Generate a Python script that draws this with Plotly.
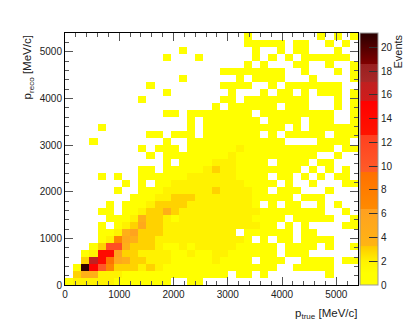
import plotly.graph_objects as go

# Event counts, one string per p_reco bin from the top row down.
# Left half and right half of each row, base 36 digits, "." is an empty bin
rows_left = [
    "..................",
    "..................",
    "..............1...",
    "............1...1.",
    "..................",
    "..................",
    "..............1...",
    "..........1.......",
    "............1.....",
    ".........1........",
    "..................",
    "............11.111",
    "...............1.1",
    "....1..........1.1",
    "..........11.111.1",
    "...1........1..111",
    ".........1.111.111",
    "..........1.111111",
    "............1.1111",
    ".........11.111112",
    "....1.1..111111222",
    ".......1.1.1122222",
    "......1..111222222",
    "........1112233322",
    ".....1.11123333222",
    "....11.11233432222",
    ".....1112433212222",
    "....1.123533222222",
    "....11246333222222",
    "....12754332222222",
    "...13bb43332112122",
    "..12ee633222211211",
    "..3he9543322211111",
    ".1lfa7333232111111",
    ".34422211111111111",
    "1222221111111..11.",
]
rows_right = [
    "....1........1.1.1",
    "....11111.11..1.1.",
    ".....1..1.11...1..",
    ".....1.1.1.111111.",
    "....1.1...11..1..1",
    ".11111111..1...1.1",
    "...1.1111...1....1",
    ".1111..1.1111111..",
    "..1...1.11.1.111.1",
    ".11.11111111...1.1",
    "1.111111.111...1.1",
    "11111.111111111..1",
    "111111.1111.111..1",
    "111111111.1.111111",
    "111111.1.11111.111",
    "111111111....1111.",
    "111211111111111.11",
    "1121111111111..1..",
    "2221111.1111.11...",
    "32211111111.1.1.1.",
    "2221111.11.1.1.11.",
    "22221111.1..1...11",
    "3222211.111...1...",
    "2222211111.111....",
    "222221.1.11..1.1..",
    "22222211111111..1.",
    "222221111.11111..1",
    "22222211.1.1....11",
    "222.111111.11.....",
    "22221.1.11.1111...",
    "22211111.1111.1..1",
    "22111111.111......",
    "21111.111..1111.11",
    "11111111..11111...",
    "11.11.1.......1...",
    "..................",
]
bin_centres = [75 + 150 * i for i in range(36)]
tick_vals = [0, 1000, 2000, 3000, 4000, 5000]
bar_ticks = [0, 2, 4, 6, 8, 10, 12, 14, 16, 18, 20]

z = []
for left, right in zip(rows_left[::-1], rows_right[::-1]):
    z.append([None if ch == "." else int(ch, 36) for ch in left + right])

# banded palette like the root colour bar
zmax = 21.2
stops = [
    (0, "#ffff00"), (1, "#ffff00"), (2, "#fff200"), (3.3, "#ffc800"), (3.3, "#ffb414"), (6.4, "#ffa020"),
    (6.4, "#ff8a00"), (9.5, "#ff7000"), (9.5, "#ff5c28"), (12.6, "#ff4020"),
    (12.6, "#ff1400"), (15.5, "#ff0000"), (15.5, "#d01c1c"), (17.1, "#c02020"),
    (17.1, "#a82828"), (18.6, "#982020"), (18.6, "#800000"), (21.2, "#2a0000"),
]
colorscale = [[v / zmax, c] for v, c in stops]

fig = go.Figure(go.Heatmap(
    x=bin_centres, y=bin_centres, z=z, zmin=0, zmax=zmax, colorscale=colorscale,
    hoverongaps=False,
    colorbar=dict(
        thickness=18, thicknessmode="pixels", len=1, lenmode="fraction",
        x=1.0068, xanchor="left", xpad=0, y=0, yanchor="bottom", ypad=0,
        tickvals=bar_ticks, ticks="inside", ticklen=9, tickcolor="#333333", tickwidth=1,
        outlinewidth=1, outlinecolor="#999999",
        tickfont=dict(family="Liberation Sans", size=10, color="#222222"),
    ),
))

axis_style = dict(
    range=[0, 5400], tickvals=tick_vals, ticks="inside", ticklen=8, tickwidth=1, tickcolor="#555555",
    minor=dict(dtick=200, ticks="inside", ticklen=4, tickwidth=1, tickcolor="#555555"),
    showgrid=False, zeroline=False, showline=True, linecolor="black", linewidth=1, mirror="ticks",
    tickfont=dict(family="Liberation Sans", size=10, color="#222222"),
)
fig.update_xaxes(**axis_style)
fig.update_yaxes(**axis_style)

title_font = dict(family="Liberation Sans", size=11.5, color="#222222")
fig.add_annotation(text="p<sub>true</sub> [MeV/c]", xref="paper", yref="paper", x=1.005, y=-0.08,
                   xanchor="right", yanchor="top", showarrow=False, font=title_font)
fig.add_annotation(text="p<sub>reco</sub> [MeV/c]", xref="paper", yref="paper", x=-0.125, y=1,
                   xanchor="center", yanchor="top", textangle=-90, showarrow=False, font=title_font)
fig.add_annotation(text="Events", xref="paper", yref="paper", x=1.135, y=1,
                   xanchor="center", yanchor="top", textangle=-90, showarrow=False,
                   font=dict(family="Liberation Sans", size=11, color="#222222"))

# the page keeps an 8px body margin, the figure is kept inside the window so it does not scroll
fig.update_layout(
    width=403, height=320, autosize=False,
    margin=dict(l=57, r=53, t=25, b=43, autoexpand=False),
    paper_bgcolor="white", plot_bgcolor="white",
)
fig.write_html("out.html")
